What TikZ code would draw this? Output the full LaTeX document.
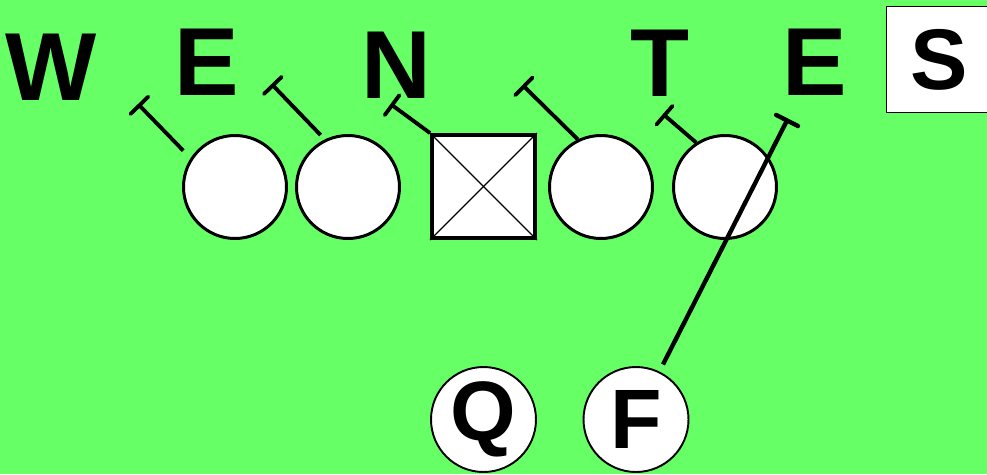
\documentclass[tikz,border=0pt]{standalone}
\usepackage{fontspec}
\setmainfont{Liberation Sans}
\usetikzlibrary{arrows.meta}
\definecolor{FieldGreen}{HTML}{66FF66}
\definecolor{PlayerWhite}{HTML}{FFFFFF}
\definecolor{InkBlack}{HTML}{000000}

\begin{document}
\begin{tikzpicture}[
  x=0.02cm,
  y=-0.02cm,
  lineman/.style={circle,draw=InkBlack,fill=PlayerWhite,line width=1.7pt,minimum size=2.06cm,inner sep=0},
  snapper/.style={rectangle,draw=InkBlack,fill=PlayerWhite,line width=2.2pt,minimum size=2.06cm,inner sep=0},
  back/.style={circle,draw=InkBlack,fill=PlayerWhite,line width=1.1pt,minimum size=2.1cm,inner sep=0,font=\fontsize{48}{48}\selectfont\bfseries},
  defender/.style={inner sep=0,text=InkBlack,font=\fontsize{55}{55}\selectfont\bfseries},
  safety/.style={rectangle,draw=InkBlack,fill=PlayerWhite,line width=1.1pt,minimum width=2.1cm,minimum height=2.12cm,inner sep=0,font=\fontsize{49}{49}\selectfont\bfseries},
  block/.style={draw=InkBlack,line width=2.2pt,-{Bar[width=14pt,round]}},
  cross/.style={draw=InkBlack,line width=0.75pt}
]
  \useasboundingbox (0,0) rectangle (987,474);
  \fill[FieldGreen] (0,0) rectangle (987,474);

  % defense
  \node[defender] (W) at (51,67) {W};
  \node[defender] (E1) at (206.5,62) {E};
  \node[defender] (N) at (396,65) {N};
  \node[defender] (T) at (660,63.5) {T};
  \node[defender] (E2) at (814.5,62) {E};
  \node[safety] (S) at (939,59.5) {S};

  % offensive line
  \node[lineman] (L1) at (235,187) {};
  \node[lineman] (L2) at (348,187) {};
  \node[snapper] (C) at (483.5,186.5) {};
  \node[lineman] (L4) at (601,187) {};
  \node[lineman] (L5) at (725,187) {};
  \draw[cross] (C.north west) -- (C.south east);
  \draw[cross] (C.north east) -- (C.south west);

  % backs
  \node[back] (Q) at (483.5,419.5) {Q};
  \node[back] (F) at (636,419.5) {F};

  % blocks
  \coordinate (b1) at (138,104);
  \coordinate (b2) at (271.5,84);
  \coordinate (b3) at (390.5,104);
  \coordinate (b4) at (522.5,85);
  \coordinate (b5) at (663,114);
  \coordinate (b6) at (788,118.5);
  \draw[block,shorten <=6pt] (L1.147) -- (b1);
  \draw[block,shorten <=3.4pt] (L2.116) -- (b2);
  \draw[block] (C.north west) -- (b3);
  \draw[block] (L4.116) -- (b4);
  \draw[block] (L5.123) -- (b5);
  \draw[block,line width=2.5pt,shorten <=4.5pt] (F.64) -- (b6);
\end{tikzpicture}
\end{document}
